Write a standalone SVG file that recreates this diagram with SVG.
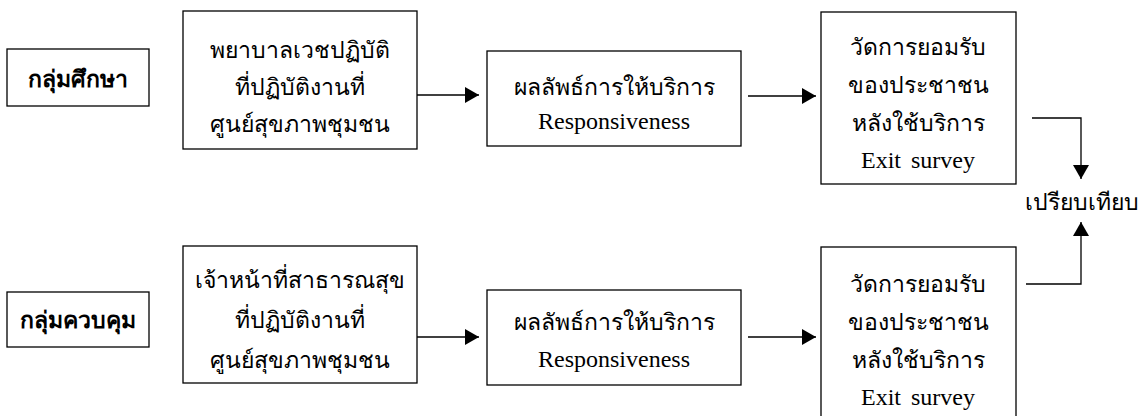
<svg xmlns="http://www.w3.org/2000/svg" width="1145" height="416" viewBox="0 0 1145 416">
<style>
.box{fill:#fff;stroke:#000;stroke-width:1.3}
.t{font-family:"Liberation Serif","DejaVu Serif",serif;font-size:23px;fill:#000;text-anchor:middle}
.e{font-size:24px}
.x{font-size:24px;word-spacing:4px}
.b{font-weight:bold}
.c{fill:none;stroke:#000;stroke-width:1.3}
</style>
<defs>
<marker id="ah" markerWidth="16" markerHeight="16" refX="14" refY="8" orient="auto" markerUnits="userSpaceOnUse">
<path d="M0,0 L14,8 L0,16 Z" fill="#000"/>
</marker>
</defs>
<g id="study">
<rect class="box" x="7" y="49" width="142" height="57"/>
<text class="t b" x="78" y="87">กลุ่มศึกษา</text>
</g>
<g id="nurse">
<rect class="box" x="183" y="11" width="234" height="138"/>
<text class="t" x="300" y="58">พยาบาลเวชปฏิบัติ</text>
<text class="t" x="300" y="95">ที่ปฏิบัติงานที่</text>
<text class="t" x="300" y="132">ศูนย์สุขภาพชุมชน</text>
</g>
<g id="resp1">
<rect class="box" x="487" y="51" width="254" height="95"/>
<text class="t" x="614" y="95">ผลลัพธ์การให้บริการ</text>
<text class="t e" x="614" y="129">Responsiveness</text>
</g>
<g id="exit1">
<rect class="box" x="821" y="12" width="195" height="172"/>
<text class="t" x="918" y="55">วัดการยอมรับ</text>
<text class="t" x="918" y="93">ของประชาชน</text>
<text class="t" x="918" y="131">หลังใช้บริการ</text>
<text class="t x" x="918" y="168">Exit survey</text>
</g>
<g id="control">
<rect class="box" x="7" y="292" width="142" height="55"/>
<text class="t b" x="78" y="328">กลุ่มควบคุม</text>
</g>
<g id="officer">
<rect class="box" x="183" y="246" width="234" height="137"/>
<text class="t" x="300" y="288">เจ้าหน้าที่สาธารณสุข</text>
<text class="t" x="300" y="328">ที่ปฏิบัติงานที่</text>
<text class="t" x="300" y="368">ศูนย์สุขภาพชุมชน</text>
</g>
<g id="resp2">
<rect class="box" x="487" y="290" width="254" height="95"/>
<text class="t" x="614" y="330">ผลลัพธ์การให้บริการ</text>
<text class="t e" x="614" y="367">Responsiveness</text>
</g>
<g id="exit2">
<rect class="box" x="821" y="247" width="195" height="175"/>
<text class="t" x="918" y="292">วัดการยอมรับ</text>
<text class="t" x="918" y="330">ของประชาชน</text>
<text class="t" x="918" y="368">หลังใช้บริการ</text>
<text class="t x" x="918" y="405">Exit survey</text>
</g>
<g id="compare">
<text class="t" x="1082" y="210">เปรียบเทียบ</text>
</g>
<g id="connectors">
<line class="c" x1="417" y1="95" x2="479" y2="95" marker-end="url(#ah)"/>
<line class="c" x1="748" y1="96" x2="816" y2="96" marker-end="url(#ah)"/>
<line class="c" x1="417" y1="337" x2="479" y2="337" marker-end="url(#ah)"/>
<line class="c" x1="748" y1="337" x2="816" y2="337" marker-end="url(#ah)"/>
<polyline class="c" points="1032,118 1081,118 1081,179" marker-end="url(#ah)"/>
<polyline class="c" points="1026,284 1081,284 1081,222" marker-end="url(#ah)"/>
</g>
</svg>
